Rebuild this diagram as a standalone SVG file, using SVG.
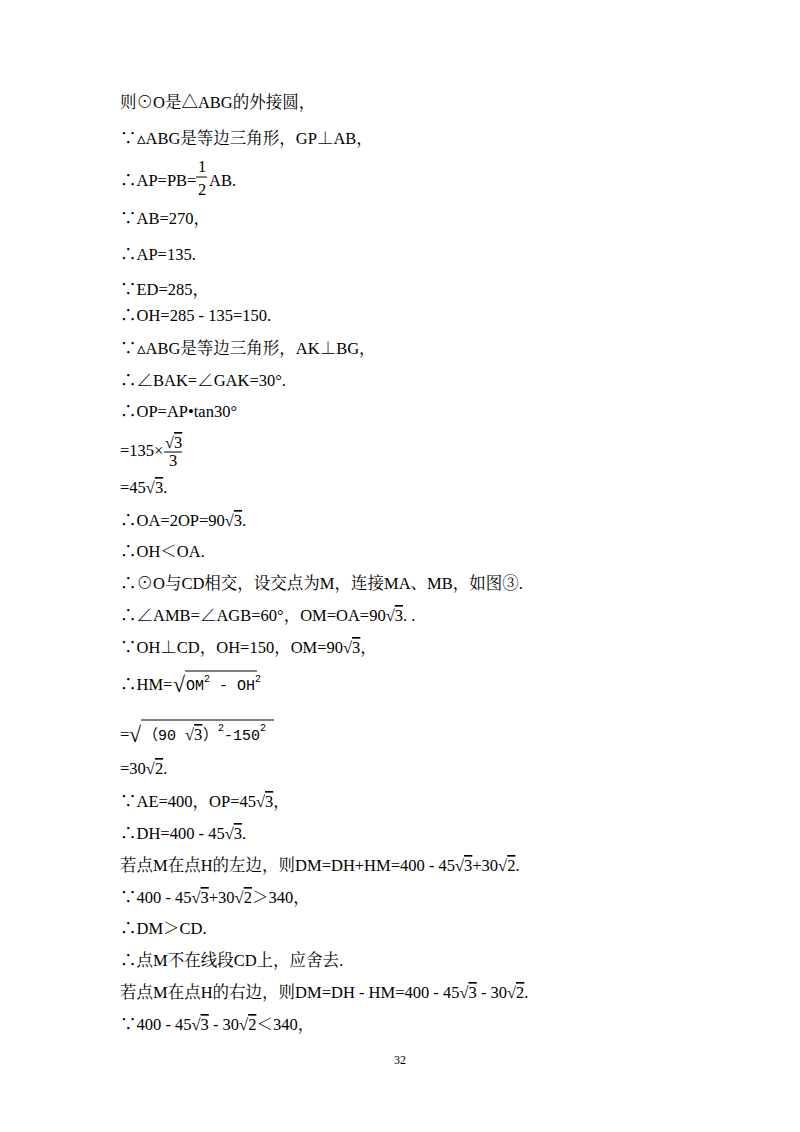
<svg xmlns="http://www.w3.org/2000/svg" width="800" height="1132" viewBox="0 0 800 1132">
<style>
text{font-family:"Liberation Serif","Noto Serif CJK SC","Noto Sans CJK SC",serif;font-size:16.5px;fill:#000}
.m{font-family:"Liberation Mono","Noto Sans CJK SC",monospace;font-size:15px}
.s{font-size:10px}
.o{text-decoration:overline}
line{stroke:#000;stroke-width:1}
</style>
<rect width="800" height="1132" fill="#fff"/>
<g id="text">
<text x="120" y="108">则⊙O是△ABG的外接圆，</text>
<text x="120" y="144">∵▵ABG是等边三角形，GP⊥AB，</text>
<text x="120" y="186">∴AP=PB=</text>
<text x="198" y="172">1</text><line x1="196" y1="177" x2="207" y2="177"/><text x="198" y="195">2</text>
<text x="209" y="186">AB.</text>
<text x="120" y="224">∵AB=270，</text>
<text x="120" y="260">∴AP=135.</text>
<text x="120" y="295">∵ED=285，</text>
<text x="120" y="321">∴OH=285 - 135=150.</text>
<text x="120" y="354">∵▵ABG是等边三角形，AK⊥BG，</text>
<text x="120" y="386">∴∠BAK=∠GAK=30°.</text>
<text x="120" y="417">∴OP=AP•tan30°</text>
<text x="120" y="456">=135×</text>
<text x="165" y="448">√<tspan class="o">3</tspan></text><line x1="164" y1="452" x2="182" y2="452"/><text x="169" y="466">3</text>
<text x="120" y="493">=45√<tspan class="o">3</tspan>.</text>
<text x="120" y="526">∴OA=2OP=90√<tspan class="o">3</tspan>.</text>
<text x="120" y="557">∴OH＜OA.</text>
<text x="120" y="589">∴⊙O与CD相交，设交点为M，连接MA、MB，如图③.</text>
<text x="120" y="621">∴∠AMB=∠AGB=60°，OM=OA=90√<tspan class="o">3</tspan>.  .</text>
<text x="120" y="653">∵OH⊥CD，OH=150，OM=90√<tspan class="o">3</tspan>，</text>
<text x="120" y="690">∴HM=</text>
<text x="173" y="692" style="font-size:22px">√</text><line x1="185" y1="671" x2="257" y2="671"/>
<text x="186" y="690" class="m">OM<tspan class="s" dy="-8">2</tspan><tspan dy="8"> - OH</tspan><tspan class="s" dy="-8">2</tspan></text>
<text x="120" y="740">=</text>
<text x="129" y="742" style="font-size:22px">√</text><line x1="141" y1="720" x2="274" y2="720"/>
<text x="143" y="740" class="m">（90</text><text x="185" y="740">√<tspan class="o">3</tspan></text>
<text x="203" y="740" class="m">）<tspan class="s" dy="-9">2</tspan><tspan dy="9">-150</tspan><tspan class="s" dy="-9">2</tspan></text>
<text x="120" y="774">=30√<tspan class="o">2</tspan>.</text>
<text x="120" y="807">∵AE=400，OP=45√<tspan class="o">3</tspan>，</text>
<text x="120" y="839">∴DH=400 - 45√<tspan class="o">3</tspan>.</text>
<text x="120" y="871">若点M在点H的左边，则DM=DH+HM=400 - 45√<tspan class="o">3</tspan>+30√<tspan class="o">2</tspan>.</text>
<text x="120" y="903">∵400 - 45√<tspan class="o">3</tspan>+30√<tspan class="o">2</tspan>＞340，</text>
<text x="120" y="934">∴DM＞CD.</text>
<text x="120" y="966">∴点M不在线段CD上，应舍去.</text>
<text x="120" y="998">若点M在点H的右边，则DM=DH - HM=400 - 45√<tspan class="o">3</tspan> - 30√<tspan class="o">2</tspan>.</text>
<text x="120" y="1030">∵400 - 45√<tspan class="o">3</tspan> - 30√<tspan class="o">2</tspan>＜340，</text>
<text x="400" y="1064" text-anchor="middle" style="font-size:12px">32</text>
</g>
</svg>
